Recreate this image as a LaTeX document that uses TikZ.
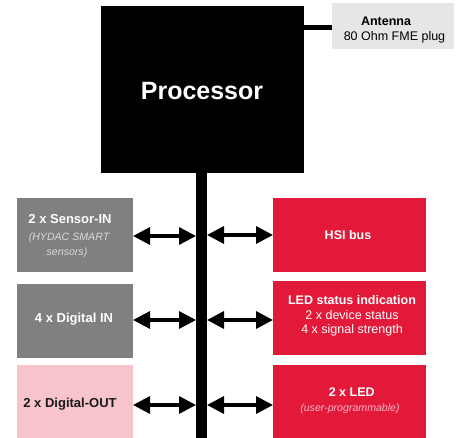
\documentclass[tikz,border=0pt]{standalone}
\usepackage{fontspec}
\setmainfont{Liberation Sans}
\usetikzlibrary{arrows.meta}
\definecolor{boxgray}{HTML}{808080}
\definecolor{boxpink}{HTML}{F7C4CC}
\definecolor{boxred}{HTML}{E3193A}
\definecolor{antgray}{HTML}{E6E6E6}
\definecolor{notegray}{HTML}{DADADA}
\definecolor{notered}{HTML}{F6B4C0}
\definecolor{darktext}{HTML}{1A1A1A}

\begin{document}
\begin{tikzpicture}[x=1pt,y=-1pt,
  blk/.style 2 args={minimum width=#1,minimum height=#2,inner sep=0pt,outer sep=0pt,draw=none},
  lbl/.style={anchor=base,inner sep=0pt,outer sep=0pt,text=white},
  bigbold/.style={font=\fontsize{25}{30}\selectfont\bfseries},
  lbold/.style={font=\fontsize{13}{15}\selectfont\bfseries},
  rbold/.style={font=\fontsize{12.5}{15}\selectfont\bfseries},
  rplain/.style={font=\fontsize{12.5}{15}\selectfont},
  note/.style={font=\fontsize{10.6}{13}\selectfont\itshape},
  dblarrow/.style={line width=3.3pt,
    {Triangle[length=17pt,width=17pt]}-{Triangle[length=17pt,width=17pt]}},
  antline/.style={line width=4.5pt}
]
\useasboundingbox (0,0) rectangle (464,438);

% processor and bus
\node[blk={203pt}{167pt},fill=black] (proc) at (202.5,89.5) {};
\node[blk={11pt}{265pt},fill=black] (bus) at (201.5,305.5) {};
\node[lbl,bigbold] (procT) at (202,100) {Processor};

% antenna
\node[blk={122pt}{46pt},fill=antgray] (ant) at (393,26) {};
\node[lbl,rbold,text=black] (antA) at (386,26) {Antenna};
\node[lbl,rplain,text=black] (antB) at (394.5,41) {80 Ohm FME plug};
\draw[antline] ([yshift=-1.7pt]ant.west) -- ([yshift=-1.7pt]ant.west -| proc.east);

% left column
\node[blk={116pt}{74pt},fill=boxgray] (sens) at (75,235) {};
\node[lbl,lbold] (sensA) at (70,224) {2 x Sensor-IN};
\node[lbl,note,text=notegray] (sensB) at (69,241) {(HYDAC SMART};
\node[lbl,note,text=notegray] (sensC) at (67,256) {sensors)};

\node[blk={116pt}{74pt},fill=boxgray] (din) at (75,321) {};
\node[lbl,lbold] (dinT) at (74,322.3) {4 x Digital IN};

\node[blk={116pt}{76pt},fill=boxpink] (dout) at (75,403) {};
\node[lbl,lbold,text=darktext] (doutT) at (70,407.3) {2 x Digital-OUT};

% right column
\node[blk={153pt}{74pt},fill=boxred] (hsi) at (349.5,235) {};
\node[lbl,rbold] (hsiT) at (348,240) {HSI bus};

\node[blk={153pt}{74pt},fill=boxred] (ledst) at (349.5,318) {};
\node[lbl,rbold] (ledA) at (352,304.3) {LED status indication};
\node[lbl,rplain] (ledB) at (352,319.3) {2 x device status};
\node[lbl,rplain] (ledC) at (352,334) {4 x signal strength};

\node[blk={153pt}{76pt},fill=boxred] (led) at (349.5,403) {};
\node[lbl,rbold] (ledT) at (351.7,396.7) {2 x LED};
\node[lbl,note,text=notered] (ledN) at (350,411.7) {(user-programmable)};

% bus connections
\draw[dblarrow] ([yshift=-1pt]sens.east) -- ([yshift=-1pt]sens.east -| bus.west);
\draw[dblarrow] ([yshift=1pt]din.east) -- ([yshift=1pt]din.east -| bus.west);
\draw[dblarrow] ([yshift=-2pt]dout.east) -- ([yshift=-2pt]dout.east -| bus.west);
\draw[dblarrow] (bus.east |- hsi.west) -- (hsi.west);
\draw[dblarrow] ([yshift=-2pt]bus.east |- ledst.west) -- ([yshift=-2pt]ledst.west);
\draw[dblarrow] ([yshift=-2pt]bus.east |- led.west) -- ([yshift=-2pt]led.west);
\end{tikzpicture}
\end{document}
